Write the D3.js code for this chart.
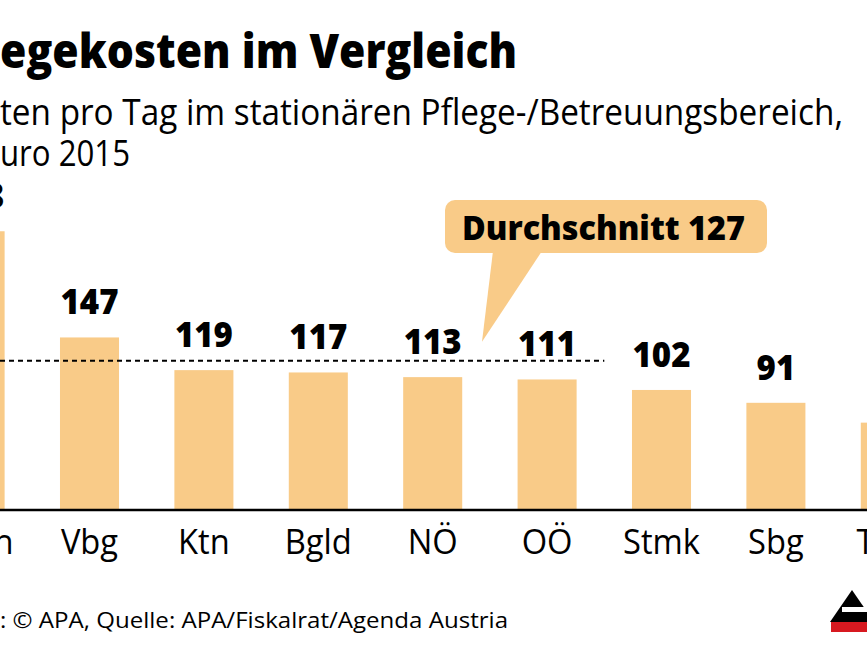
<!DOCTYPE html>
<html><head><meta charset="utf-8">
<script src="https://cdn.jsdelivr.net/npm/d3@7"></script>
<style>html,body{margin:0;padding:0;background:#fff;overflow:hidden}</style>
</head><body>
<svg id="c" width="867" height="650"></svg>
<script>
const categories = ["Wien","Vbg","Ktn","Bgld","NÖ","OÖ","Stmk","Sbg","Tirol"];
const values = [238,147,119,117,113,111,102,91,74];
const average = 127;
const titleText = "Pflegekosten im Vergleich";
const subtitleLines = ["Kosten pro Tag im stationären Pflege-/Betreuungsbereich,", "in Euro 2015"];
const avgLabel = "Durchschnitt 127";
const sourceText = "Grafik: © APA, Quelle: APA/Fiskalrat/Agenda Austria";

const W = 867, H = 650;
const FONT = "'Open Sans', sans-serif";
const BAR = "#f9cb88";
const INK = "#000";
const svg = d3.select("#c");

const x = d3.scaleBand().domain(categories).range([-82.1, 947.5]).paddingInner(0.484).paddingOuter(0.242);
const y = d3.scaleLinear().domain([0, 250]).range([509, 509 - 250 * 1.167]);

function fitVisible(t, from, width) {
  const node = t.node();
  const total = node.getComputedTextLength();
  const pre = from > 0 ? node.getSubStringLength(0, from) : 0;
  const k = width / (total - pre);
  t.attr("textLength", total * k).attr("lengthAdjust", "spacingAndGlyphs");
}
function condense(sel, k) {
  sel.each(function () {
    const w = this.getComputedTextLength();
    d3.select(this).attr("textLength", w * k).attr("lengthAdjust", "spacingAndGlyphs");
  });
}

// title
const title = svg.append("text").attr("x", 517).attr("y", 68).attr("text-anchor", "end")
  .style("font-family", FONT).style("font-weight", 800).style("font-size", "47px").attr("fill", INK)
  .text(titleText);
fitVisible(title, 3, 517);

// subtitle
const sub1 = svg.append("text").attr("x", 843).attr("y", 125).attr("text-anchor", "end")
  .style("font-family", FONT).style("font-weight", 500).style("font-size", "36px").attr("fill", INK).text(subtitleLines[0]);
fitVisible(sub1, 3, 843);
const sub2 = svg.append("text").attr("x", 130).attr("y", 166).attr("text-anchor", "end")
  .style("font-family", FONT).style("font-weight", 500).style("font-size", "36px").attr("fill", INK).text(subtitleLines[1]);
fitVisible(sub2, 4, 130);

// bars
svg.append("g").selectAll("rect").data(values).join("rect")
  .attr("x", (d, i) => x(categories[i]))
  .attr("y", d => y(d))
  .attr("width", x.bandwidth())
  .attr("height", d => y(0) - y(d))
  .attr("fill", BAR);

// average dashed line
const xEnd = x("OÖ") + x.bandwidth() + (x.step() - x.bandwidth()) / 2;
svg.append("line").attr("x1", 0).attr("x2", xEnd).attr("y1", y(average)).attr("y2", y(average))
  .attr("stroke", INK).attr("stroke-width", 2).attr("stroke-dasharray", "5,4");

// value labels
const vl = svg.append("g").selectAll("text").data(values).join("text")
  .attr("x", (d, i) => x(categories[i]) + x.bandwidth() / 2)
  .attr("y", d => y(d) - 23)
  .attr("text-anchor", "middle")
  .style("font-family", FONT).style("font-weight", 800).style("font-size", "35px").attr("fill", INK)
  .text(d => d);
{
  const w = vl.filter(d => d === 147).node().getComputedTextLength();
  condense(vl, 58 / w);
}

// baseline
svg.append("line").attr("x1", 0).attr("x2", W).attr("y1", 510).attr("y2", 510)
  .attr("stroke", INK).attr("stroke-width", 2.5);

// category labels
const cl = svg.append("g").selectAll("text").data(categories).join("text")
  .attr("x", d => x(d) + x.bandwidth() / 2)
  .attr("y", 554)
  .attr("text-anchor", "middle")
  .style("font-family", FONT).style("font-weight", 500).style("font-size", "35px").attr("fill", INK)
  .text(d => d);
{
  const w = cl.filter(d => d === "NÖ").node().getComputedTextLength();
  condense(cl, 50 / w);
}

// callout
const tipX = 482, tipY = y(average) - 19;
svg.append("path").attr("d", `M493,251 L542,251 L${tipX},${tipY} Z`).attr("fill", BAR);
svg.append("rect").attr("x", 445).attr("y", 200).attr("width", 322).attr("height", 53).attr("rx", 10).attr("fill", BAR);
const cTxt = svg.append("text").attr("x", 462).attr("y", 240)
  .style("font-family", FONT).style("font-weight", 800).style("font-size", "34px").attr("fill", INK).text(avgLabel);
fitVisible(cTxt, 0, 283);

// source
const src = svg.append("text").attr("x", 508).attr("y", 628).attr("text-anchor", "end")
  .style("font-family", FONT).style("font-weight", 500).style("font-size", "21px").attr("fill", INK).text(sourceText);
fitVisible(src, 6, 508);

// APA logo (partial)
svg.append("path").attr("d", "M852,590 L874,622 L830,622 Z").attr("fill", INK);
svg.append("rect").attr("x", 842).attr("y", 607).attr("width", 30).attr("height", 5).attr("fill", "#fff");
svg.append("rect").attr("x", 831).attr("y", 622).attr("width", 40).attr("height", 10).attr("fill", "#d71920");
</script>
</body></html>
